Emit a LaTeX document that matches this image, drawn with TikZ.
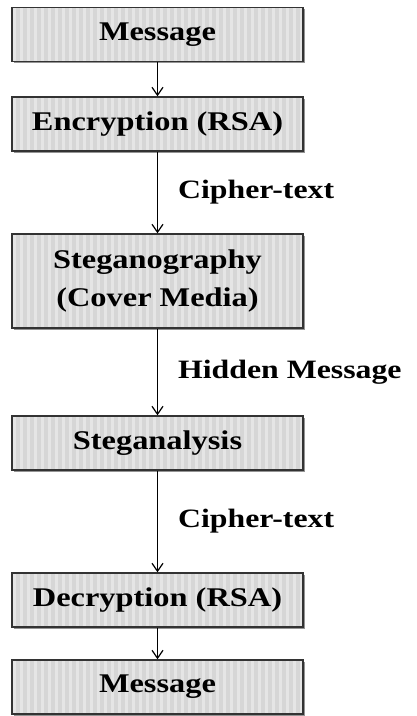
\documentclass[tikz,border=0pt]{standalone}
\usepackage{fontspec}
\setmainfont[FakeStretch=1.2]{Liberation Serif}
\usetikzlibrary{arrows.meta,shadows,patterns.meta}
\tikzstyle{sbox}=[draw=black!80, line width=1.4pt, fill=black!16, minimum width=291pt, minimum height=54pt, inner sep=0pt, align=center, font=\fontsize{27pt}{38pt}\selectfont\bfseries, drop shadow={shadow xshift=1.5pt, shadow yshift=-1.5pt, fill=black!60, opacity=0.7}, postaction={pattern={Lines[angle=90,distance=7pt,line width=3pt]}, pattern color=black!10, draw=black!80, line width=1.4pt}]
\tikzstyle{lbl}=[midway, right=20pt, inner sep=0pt, font=\fontsize{26.5pt}{30pt}\selectfont\bfseries]
\tikzstyle{flow}=[-{Straight Barb[length=8pt,width=11pt]}, line width=1.2pt]

\begin{document}
\begin{tikzpicture}[x=1pt, y=1pt]
\useasboundingbox (0,0) rectangle (416,-716);
\node[sbox] (msgA) at (157.5,-34.5) {Message};
\node[sbox] (enc) at (157.5,-124) {Encryption (RSA)};
\node[sbox, minimum height=94pt] (steg) at (157.5,-281) {Steganography\\(Cover Media)};
\node[sbox] (sana) at (157.5,-443) {Steganalysis};
\node[sbox] (dec) at (157.5,-600) {Decryption (RSA)};
\node[sbox] (msgB) at (157.5,-687) {Message};
\draw[flow](msgA)--(enc);
\draw[flow](enc)-- node[lbl] (ctA) {Cipher-text} (steg);
\draw[flow](steg)-- node[lbl] (hid) {Hidden Message} (sana);
\draw[flow](sana)-- node[lbl] (ctB) {Cipher-text} (dec);
\draw[flow](dec)--(msgB);
\end{tikzpicture}
\end{document}
